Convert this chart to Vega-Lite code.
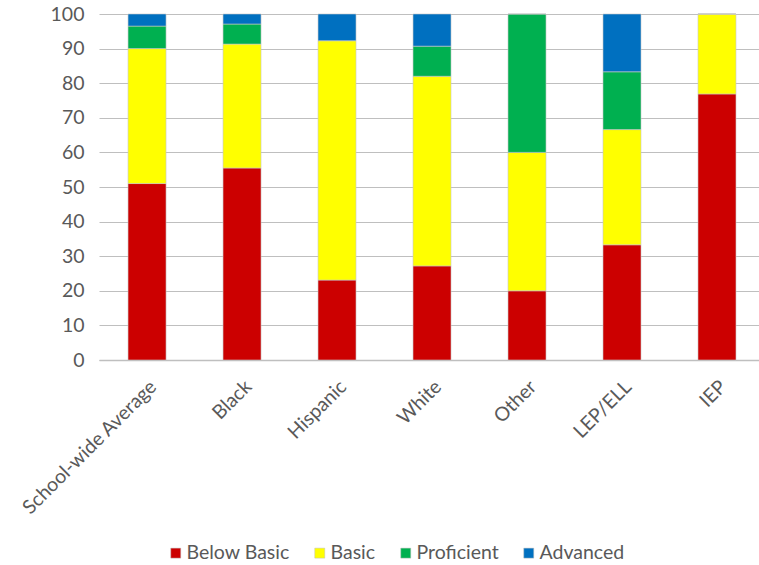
{
  "$schema": "https://vega.github.io/schema/vega-lite/v6.json",
  "autosize": "none",
  "width": 660,
  "height": 346,
  "padding": {"left": 99, "top": 14, "right": 0, "bottom": 205},
  "background": "white",
  "config": {
    "font": "Lato",
    "view": {"stroke": null},
    "axis": {"labelColor": "#595959", "labelFont": "Lato", "labelFontSize": 19.5}
  },
  "data": {
    "values": [
      {"group": "School-wide Average", "level": "Below Basic", "pct": 51.0},
      {"group": "School-wide Average", "level": "Basic", "pct": 39.0},
      {"group": "School-wide Average", "level": "Proficient", "pct": 6.5},
      {"group": "School-wide Average", "level": "Advanced", "pct": 3.5},
      {"group": "Black", "level": "Below Basic", "pct": 55.5},
      {"group": "Black", "level": "Basic", "pct": 35.8},
      {"group": "Black", "level": "Proficient", "pct": 5.8},
      {"group": "Black", "level": "Advanced", "pct": 2.9},
      {"group": "Hispanic", "level": "Below Basic", "pct": 23.1},
      {"group": "Hispanic", "level": "Basic", "pct": 69.2},
      {"group": "Hispanic", "level": "Proficient", "pct": 0},
      {"group": "Hispanic", "level": "Advanced", "pct": 7.7},
      {"group": "White", "level": "Below Basic", "pct": 27.2},
      {"group": "White", "level": "Basic", "pct": 54.8},
      {"group": "White", "level": "Proficient", "pct": 8.7},
      {"group": "White", "level": "Advanced", "pct": 9.3},
      {"group": "Other", "level": "Below Basic", "pct": 20},
      {"group": "Other", "level": "Basic", "pct": 40},
      {"group": "Other", "level": "Proficient", "pct": 40},
      {"group": "Other", "level": "Advanced", "pct": 0},
      {"group": "LEP/ELL", "level": "Below Basic", "pct": 33.3},
      {"group": "LEP/ELL", "level": "Basic", "pct": 33.3},
      {"group": "LEP/ELL", "level": "Proficient", "pct": 16.7},
      {"group": "LEP/ELL", "level": "Advanced", "pct": 16.7},
      {"group": "IEP", "level": "Below Basic", "pct": 76.9},
      {"group": "IEP", "level": "Basic", "pct": 23.1},
      {"group": "IEP", "level": "Proficient", "pct": 0},
      {"group": "IEP", "level": "Advanced", "pct": 0}
    ]
  },
  "transform": [
    {"calculate": "indexof(['Below Basic','Basic','Proficient','Advanced'], datum.level)", "as": "levelOrder"}
  ],
  "mark": {"type": "bar", "stroke": "#c8c8c8", "strokeWidth": 0.6},
  "encoding": {
    "x": {
      "field": "group",
      "type": "nominal",
      "sort": null,
      "title": null,
      "scale": {"paddingInner": 0.6, "paddingOuter": 0.274, "align": 0.558},
      "axis": {
        "labelAngle": -45,
        "ticks": false,
        "domainColor": "#bfbfbf",
        "domainWidth": 1.5,
        "labelPadding": 17,
        "labelLimit": 0
      }
    },
    "y": {
      "field": "pct",
      "type": "quantitative",
      "stack": "zero",
      "title": null,
      "scale": {"domain": [0, 100], "nice": false},
      "axis": {
        "values": [0, 10, 20, 30, 40, 50, 60, 70, 80, 90, 100],
        "domain": false,
        "ticks": false,
        "gridColor": "#bfbfbf",
        "gridWidth": 1.2,
        "labelPadding": 15
      }
    },
    "order": {"field": "levelOrder", "type": "quantitative", "sort": "ascending"},
    "color": {
      "field": "level",
      "type": "nominal",
      "sort": ["Below Basic", "Basic", "Proficient", "Advanced"],
      "scale": {
        "domain": ["Below Basic", "Basic", "Proficient", "Advanced"],
        "range": ["#cc0000", "#ffff00", "#00b050", "#0070c0"]
      },
      "legend": {
        "title": null,
        "orient": "none",
        "direction": "horizontal",
        "legendX": 67,
        "legendY": 529,
        "symbolType": "square",
        "symbolSize": 100,
        "symbolStrokeColor": "#bfbfbf",
        "symbolStrokeWidth": 0.5,
        "labelFontSize": 19.5,
        "labelColor": "#595959",
        "labelFont": "Lato",
        "labelOffset": 1,
        "columnPadding": 20
      }
    }
  }
}
